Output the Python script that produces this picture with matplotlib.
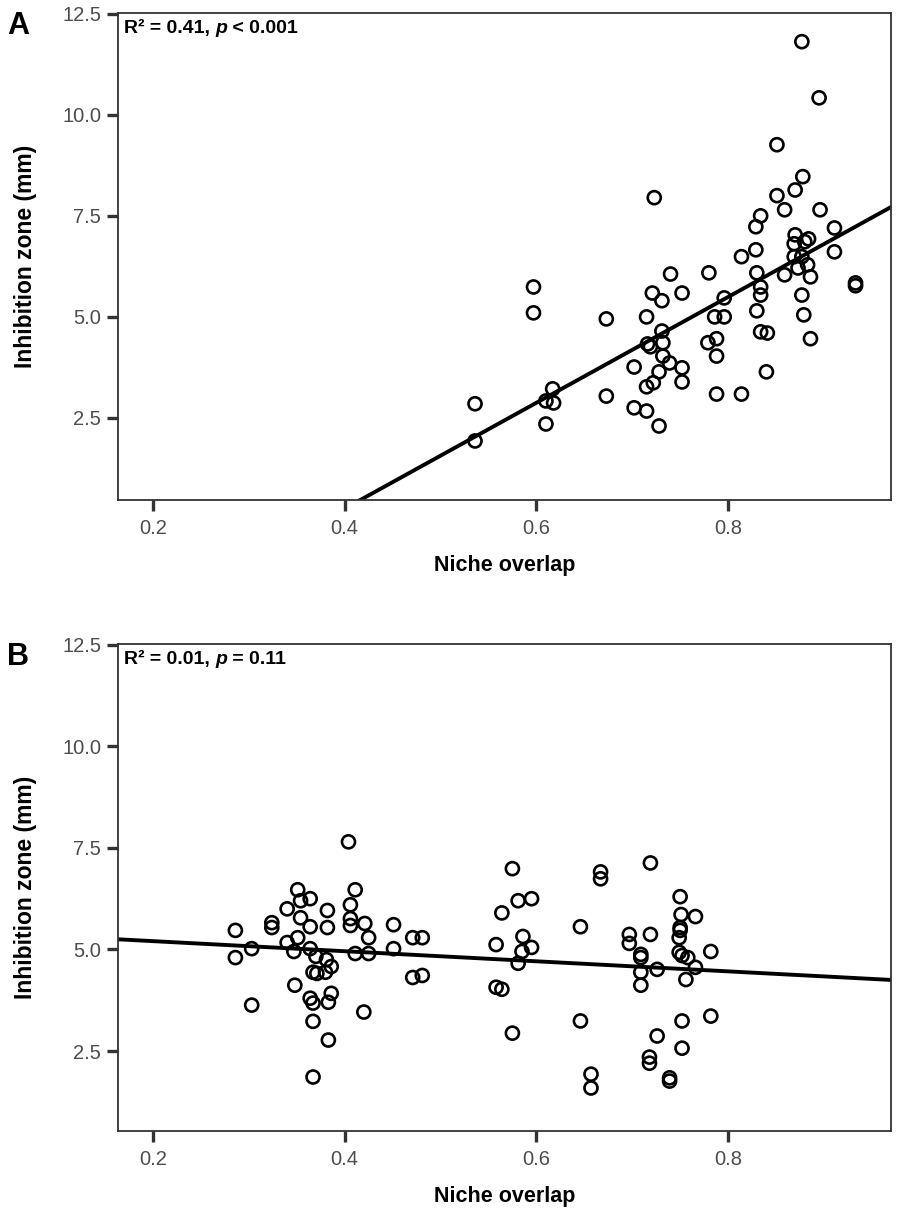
import matplotlib
matplotlib.use("Agg")
import matplotlib.pyplot as plt

plt.rcParams["font.family"] = ["Liberation Sans", "DejaVu Sans"]

# panel A: niche overlap vs inhibition zone
overlap_a = [0.597, 0.597, 0.673, 0.536, 0.536, 0.610, 0.617, 0.610, 0.618, 0.673,
             0.702, 0.702, 0.715, 0.715, 0.722, 0.728, 0.728, 0.715, 0.721, 0.731,
             0.740, 0.716, 0.719, 0.731, 0.732, 0.732, 0.739, 0.752, 0.752, 0.752,
             0.780, 0.796, 0.786, 0.796, 0.788, 0.779, 0.788, 0.788, 0.814, 0.814,
             0.829, 0.829, 0.834, 0.830, 0.834, 0.834, 0.830, 0.834, 0.841, 0.840,
             0.859, 0.859, 0.851, 0.870, 0.878, 0.851, 0.895, 0.877, 0.896, 0.911,
             0.911, 0.870, 0.869, 0.880, 0.884, 0.869, 0.877, 0.873, 0.883, 0.886,
             0.877, 0.879, 0.886, 0.933, 0.933, 0.723]
zone_a = [5.74, 5.10, 4.95, 2.85, 1.93, 2.35, 3.22, 2.92, 2.87, 3.04,
          3.76, 2.75, 2.67, 3.27, 3.37, 3.64, 2.30, 5.00, 5.59, 5.40,
          6.06, 4.33, 4.26, 4.65, 4.36, 4.03, 3.86, 5.59, 3.74, 3.39,
          6.09, 5.47, 5.00, 5.00, 4.46, 4.36, 4.03, 3.09, 3.09, 6.49,
          6.66, 7.23, 7.50, 6.09, 5.74, 5.54, 5.15, 4.63, 4.60, 3.64,
          6.04, 7.65, 8.00, 8.14, 8.47, 9.26, 10.42, 11.81, 7.65, 7.20,
          6.61, 7.03, 6.81, 6.86, 6.93, 6.49, 6.49, 6.21, 6.29, 5.99,
          5.54, 5.05, 4.46, 5.84, 5.77, 7.95]
fit_a = (13.09, -4.98)  # slope, intercept

# panel B
overlap_b = [0.286, 0.286, 0.303, 0.303, 0.324, 0.324, 0.340, 0.340, 0.347, 0.348,
             0.351, 0.354, 0.364, 0.354, 0.351, 0.364, 0.364, 0.370, 0.381, 0.386,
             0.380, 0.367, 0.371, 0.364, 0.367, 0.386, 0.383, 0.367, 0.383, 0.367,
             0.382, 0.382, 0.406, 0.406, 0.406, 0.411, 0.421, 0.425, 0.411, 0.425,
             0.420, 0.404, 0.451, 0.451, 0.471, 0.481, 0.471, 0.481,
             0.575, 0.564, 0.558, 0.558, 0.564, 0.575, 0.581, 0.595, 0.586, 0.585,
             0.595, 0.581, 0.646, 0.646, 0.667, 0.667, 0.657, 0.657,
             0.719, 0.697, 0.697, 0.719, 0.709, 0.709, 0.709, 0.709, 0.726, 0.726,
             0.718, 0.718, 0.739, 0.739, 0.750, 0.751, 0.766, 0.750, 0.750, 0.749,
             0.749, 0.752, 0.758, 0.766, 0.756, 0.782, 0.782, 0.752, 0.752]
zone_b = [5.47, 4.80, 5.02, 3.63, 5.66, 5.54, 6.00, 5.17, 4.95, 4.12,
          6.47, 6.20, 6.25, 5.78, 5.29, 5.56, 5.02, 4.83, 4.75, 4.58,
          4.44, 4.44, 4.41, 3.80, 3.68, 3.92, 3.70, 3.23, 2.77, 1.86,
          5.96, 5.54, 6.10, 5.76, 5.59, 6.47, 5.64, 5.29, 4.90, 4.90,
          3.46, 7.65, 5.61, 5.02, 5.29, 5.29, 4.31, 4.36,
          6.99, 5.90, 5.12, 4.07, 4.02, 2.94, 6.20, 6.25, 5.32, 4.95,
          5.05, 4.66, 5.56, 3.24, 6.91, 6.74, 1.93, 1.59,
          7.13, 5.37, 5.15, 5.37, 4.88, 4.80, 4.44, 4.12, 4.51, 2.87,
          2.35, 2.20, 1.84, 1.76, 6.30, 5.86, 5.81, 5.54, 5.47, 5.29,
          4.93, 4.85, 4.80, 4.56, 4.26, 4.95, 3.36, 3.24, 2.57]
fit_b = (-1.24, 5.453)

X_LIM = (0.1635, 0.970)
X_TICKS = [0.2, 0.4, 0.6, 0.8]
Y_TICKS = [2.5, 5.0, 7.5, 10.0, 12.5]

panels = [
    ("A", overlap_a, zone_a, fit_a, (0.47, 12.52), "0.41", "< 0.001", [0.1308, 0.5912, 0.857, 0.3982]),
    ("B", overlap_b, zone_b, fit_b, (0.53, 12.52), "0.01", "= 0.11", [0.1308, 0.0752, 0.857, 0.3982]),
]

fig = plt.figure(figsize=(9.02, 12.23), dpi=100)

for letter, xs, ys, fit, ylim, r2, ptxt, rect in panels:
    ax = fig.add_axes(rect)
    ax.scatter(xs, ys, s=88, facecolors="none", edgecolors="black", linewidths=1.9, zorder=3)
    slope, icept = fit
    ax.plot(X_LIM, [slope * X_LIM[0] + icept, slope * X_LIM[1] + icept],
            color="black", linewidth=2.8, zorder=2)
    ax.set_xlim(*X_LIM)
    ax.set_ylim(*ylim)
    ax.set_xticks(X_TICKS)
    ax.set_xticklabels([f"{t:.1f}" for t in X_TICKS])
    ax.set_yticks(Y_TICKS)
    ax.set_yticklabels([f"{t:.1f}" for t in Y_TICKS])
    for sp in ax.spines.values():
        sp.set_linewidth(1.3)
        sp.set_color("#333333")
    ax.tick_params(direction="out", length=8, width=2.4, color="#333333",
                   labelsize=14.5, labelcolor="#4d4d4d")
    ax.tick_params(axis="x", pad=6)
    ax.tick_params(axis="y", pad=4)
    ax.set_xlabel("Niche overlap", fontsize=15.5, fontweight="bold", labelpad=12)
    ax.set_ylabel("Inhibition zone (mm)", fontsize=16.5, fontweight="bold", labelpad=18)

    t1 = ax.text(0.008, 0.985, f"R\u00b2 = {r2}, ", transform=ax.transAxes,
                 fontsize=14, fontweight="bold", va="top", ha="left")
    t2 = ax.annotate("p", xy=(1, 0), xycoords=t1, va="bottom", ha="left",
                     fontsize=14, fontweight="bold", style="italic")
    ax.annotate(f" {ptxt}", xy=(1, 0), xycoords=t2, va="bottom", ha="left",
                fontsize=14, fontweight="bold")

    fig.text(0.008, rect[1] + rect[3] + 0.0015, letter, fontsize=22, fontweight="bold",
             va="top", ha="left")

fig.savefig("out.png", dpi=100)
plt.close(fig)
